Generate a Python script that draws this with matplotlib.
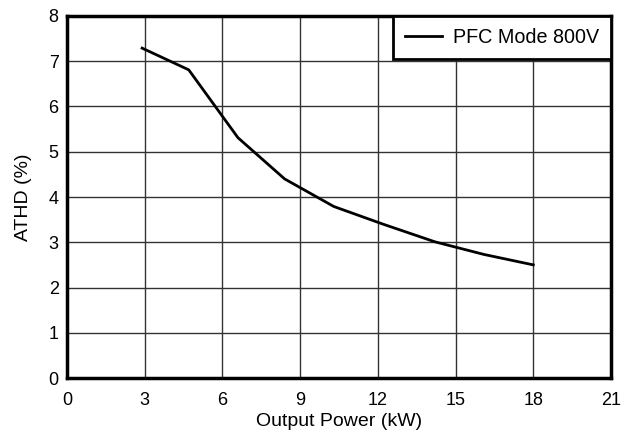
import matplotlib
matplotlib.use("Agg")
import matplotlib.pyplot as plt

power_kw = [2.9, 4.7, 6.6, 8.4, 10.3, 12.2, 14.2, 16.1, 18.0]
athd_pct = [7.29, 6.81, 5.31, 4.40, 3.79, 3.40, 3.01, 2.73, 2.50]
x_ticks = [0, 3, 6, 9, 12, 15, 18, 21]
y_ticks = [0, 1, 2, 3, 4, 5, 6, 7, 8]

plt.rcParams['font.family'] = ['Liberation Sans', 'DejaVu Sans']

fig = plt.figure(figsize=(6.31, 4.36), dpi=100)
ax = fig.add_axes([67/631, 1-378/436, (611-67)/631, (378-16)/436])

ax.plot(power_kw, athd_pct, color='black', linewidth=2, label='PFC Mode 800V')
ax.set_xlim(0, 21)
ax.set_ylim(0, 8)
ax.set_xticks(x_ticks)
ax.set_yticks(y_ticks)
ax.grid(True, color='#333333', linewidth=1)
ax.set_axisbelow(True)
ax.tick_params(length=0, labelsize=13)
ax.tick_params(axis='x', pad=10)
ax.tick_params(axis='y', pad=6)
for s in ax.spines.values():
    s.set_linewidth(2.5)
    s.set_color('black')
ax.set_xlabel('Output Power (kW)', fontsize=14, labelpad=3)
ax.set_ylabel('ATHD (%)', fontsize=14, labelpad=12)

leg = ax.legend(loc='upper right', borderaxespad=0, fancybox=False,
                fontsize=14.2, handlelength=1.9, handletextpad=0.55,
                borderpad=0.6, framealpha=1)
leg.get_frame().set_edgecolor('black')
leg.get_frame().set_linewidth(2)

fig.savefig('out.png', dpi=100)
